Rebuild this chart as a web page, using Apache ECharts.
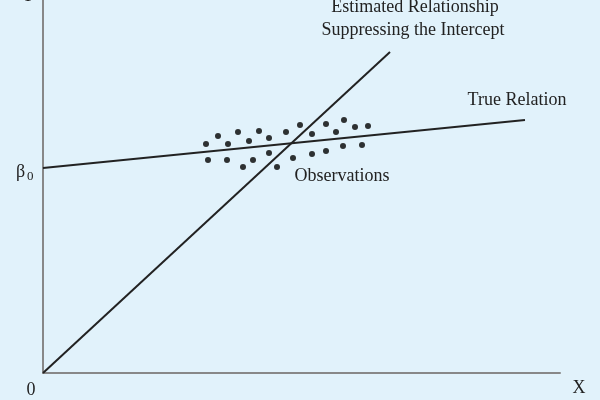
<!DOCTYPE html><html><head><meta charset="utf-8"><script src="https://cdn.jsdelivr.net/npm/echarts@6/dist/echarts.min.js"></script></head><body style="margin:0;background:#e1f2fb"><div id="c" style="width:600px;height:400px"></div><script>
const trueRelation=[[0,205],[482,253]];
const estimated=[[0,0],[347,321]];
const obsTop=[[163,229],[175,237],[185,229],[195,241],[206,232],[216,242],[226,235],[243,241],[257,248],[269,239],[283,249],[293,241],[301,253],[312,246],[325,247]];
const obsBottom=[[165,213],[184,213],[200,206],[210,213],[226,220],[234,206],[250,215],[269,219],[283,222],[300,227],[319,228]];
const observations=obsTop.concat(obsBottom);
const c=echarts.init(document.getElementById('c'));
const F='Liberation Serif';
const ln={color:'#222',width:2};
const fs='18px '+F;
c.setOption({backgroundColor:'#e1f2fb',animation:false,
grid:{left:43,right:40,top:0,bottom:27},
xAxis:{type:'value',min:0,max:517,axisLine:{lineStyle:{color:'#888',width:2}},axisTick:{show:false},axisLabel:{show:false},splitLine:{show:false}},
yAxis:{type:'value',min:0,max:373,axisLine:{show:true,lineStyle:{color:'#888',width:2}},axisTick:{show:false},axisLabel:{show:false},splitLine:{show:false}},
series:[
{type:'line',data:trueRelation,symbol:'none',lineStyle:ln},
{type:'line',data:estimated,symbol:'none',lineStyle:ln},
{type:'scatter',data:observations,symbolSize:6,itemStyle:{color:'#000'}}],
graphic:[
{type:'text',style:{text:'Estimated Relationship',x:415,y:7,textAlign:'center',textVerticalAlign:'middle',font:fs,fill:'#222'}},
{type:'text',style:{text:'Suppressing the Intercept',x:413,y:30,textAlign:'center',textVerticalAlign:'middle',font:fs,fill:'#222'}},
{type:'text',style:{text:'True Relation',x:517,y:100,textAlign:'center',textVerticalAlign:'middle',font:fs,fill:'#222'}},
{type:'text',style:{text:'Observations',x:342,y:176,textAlign:'center',textVerticalAlign:'middle',font:fs,fill:'#222'}},
{type:'text',style:{text:'β',x:16,y:172,textAlign:'left',textVerticalAlign:'middle',font:fs,fill:'#222'}},
{type:'text',style:{text:'0',x:27,y:177,textAlign:'left',textVerticalAlign:'middle',font:'13px '+F,fill:'#222'}},
{type:'text',style:{text:'0',x:31,y:390,textAlign:'center',textVerticalAlign:'middle',font:fs,fill:'#222'}},
{type:'text',style:{text:'X',x:579,y:388,textAlign:'center',textVerticalAlign:'middle',font:fs,fill:'#222'}},
{type:'text',style:{text:'Y',x:28,y:-4,textAlign:'center',textVerticalAlign:'middle',font:fs,fill:'#222'}}
]});
</script></body></html>
